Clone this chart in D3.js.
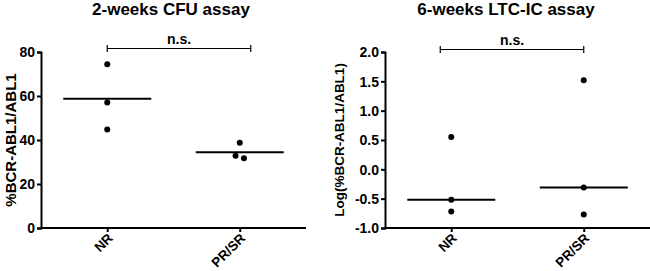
<!DOCTYPE html>
<html>
<head>
<meta charset="utf-8">
<script src="https://cdn.jsdelivr.net/npm/d3@7"></script>
<style>
  body { margin: 0; background: #fff; }
  svg { display: block; font-family: "Liberation Sans", Arial, sans-serif; font-weight: bold; }
</style>
</head>
<body>
<svg id="chart" width="650" height="271"></svg>
<script>
const groups = ['NR', 'PR/SR'];

// 2-weeks CFU assay, %BCR-ABL1/ABL1
const cfuNR = [74.4, 57.0, 44.8];
const cfuPRSR = [38.7, 31.7, 32.8];
const cfuCenter = [58.7, 34.4];
const cfuTicks = [0, 20, 40, 60, 80];

// 6-weeks LTC-IC assay, Log(%BCR-ABL1/ABL1)
const ltcNR = [0.55, -0.52, -0.72];
const ltcPRSR = [1.52, -0.31, -0.77];
const ltcCenter = [-0.52, -0.31];
const ltcTicks = [-1.0, -0.5, 0.0, 0.5, 1.0, 1.5, 2.0];

const svg = d3.select('#chart');
const TOP = 52;
const BOTTOM = 228;
const DOT_R = 3;

function panel(opts) {
  const g = svg.append('g');
  const x = d3.scalePoint().domain(groups).range([opts.left, opts.left + 265]).padding(0.5);
  const y = d3.scaleLinear().domain(opts.domain).range([BOTTOM, TOP]);

  // title
  g.append('text')
    .attr('x', opts.titleX).attr('y', 15)
    .attr('text-anchor', 'middle')
    .style('font-size', '17px')
    .text(opts.title);

  // y axis
  const ya = g.append('g')
    .attr('transform', `translate(${opts.left},0)`)
    .call(d3.axisLeft(y).tickValues(opts.ticks).tickSize(4).tickFormat(opts.fmt));
  // x axis
  const xa = g.append('g')
    .attr('transform', `translate(0,${BOTTOM})`)
    .call(d3.axisBottom(x).tickSize(4));
  xa.select('.domain').attr('d', `M${opts.left},0H${opts.left + 265}`);

  [ya, xa].forEach(a => {
    a.select('.domain').attr('stroke', '#000').attr('stroke-width', 2);
    a.selectAll('.tick line').attr('stroke', '#000').attr('stroke-width', 2);
    a.selectAll('text').attr('fill', '#000').style('font-size', '14px')
      .style('font-family', '"Liberation Sans", Arial, sans-serif').style('font-weight', 'bold');
  });
  ya.selectAll('text').attr('x', -6).attr('dy', '0.35em');
  xa.selectAll('text')
    .style('font-size', '13.5px')
    .attr('text-anchor', 'end')
    .attr('x', 0).attr('y', 0).attr('dy', 0)
    .attr('transform', 'translate(6,11) rotate(-45)');

  // y label
  g.append('text')
    .attr('transform', `translate(${opts.labelX},${(TOP + BOTTOM) / 2}) rotate(-90)`)
    .attr('text-anchor', 'middle')
    .style('font-size', opts.labelSize)
    .text(opts.label);

  // dots with simple side-by-side spreading when they overlap
  opts.series.forEach((vals, gi) => {
    const cx = x(groups[gi]);
    const sorted = vals.map(v => ({ v, py: y(v) })).sort((a, b) => a.py - b.py);
    const clusters = [];
    sorted.forEach(p => {
      const last = clusters[clusters.length - 1];
      if (last && p.py - last[last.length - 1].py < DOT_R * 2 + 1) last.push(p);
      else clusters.push([p]);
    });
    clusters.forEach(c => c.forEach((p, i) => { p.px = cx + (i - (c.length - 1) / 2) * 8.4; }));
    g.selectAll(null).data(sorted).join('circle')
      .attr('cx', d => d.px).attr('cy', d => d.py).attr('r', DOT_R).attr('fill', '#000');

    g.append('line')
      .attr('x1', cx - 44).attr('x2', cx + 44)
      .attr('y1', y(opts.center[gi])).attr('y2', y(opts.center[gi]))
      .attr('stroke', '#000').attr('stroke-width', 2);
  });

  // significance bracket
  const bx1 = x(groups[0]) + opts.bracketPad[0];
  const bx2 = x(groups[1]) + opts.bracketPad[1];
  const by = opts.bracketY;
  g.append('path')
    .attr('d', `M${bx1},${by - 3.5}V${by + 3.5}M${bx1},${by}H${bx2}M${bx2},${by - 3.5}V${by + 3.5}`)
    .attr('fill', 'none').attr('stroke', '#000').attr('stroke-width', 1.2);
  g.append('text')
    .attr('x', (bx1 + bx2) / 2).attr('y', by - 5)
    .attr('text-anchor', 'middle')
    .style('font-size', '14px')
    .text('n.s.');
}

panel({
  left: 41, domain: [0, 80], ticks: cfuTicks, fmt: d3.format('d'),
  title: '2-weeks CFU assay', titleX: 171,
  label: '%BCR-ABL1/ABL1', labelX: 16, labelSize: '15px',
  series: [cfuNR, cfuPRSR], center: cfuCenter,
  bracketPad: [0, 11], bracketY: 48.5
});

panel({
  left: 385, domain: [-1, 2], ticks: ltcTicks, fmt: d => d.toFixed(1),
  title: '6-weeks LTC-IC assay', titleX: 506,
  label: 'Log(%BCR-ABL1/ABL1)', labelX: 344, labelSize: '13.5px',
  series: [ltcNR, ltcPRSR], center: ltcCenter,
  bracketPad: [-11, 0], bracketY: 49.5
});
</script>
</body>
</html>
